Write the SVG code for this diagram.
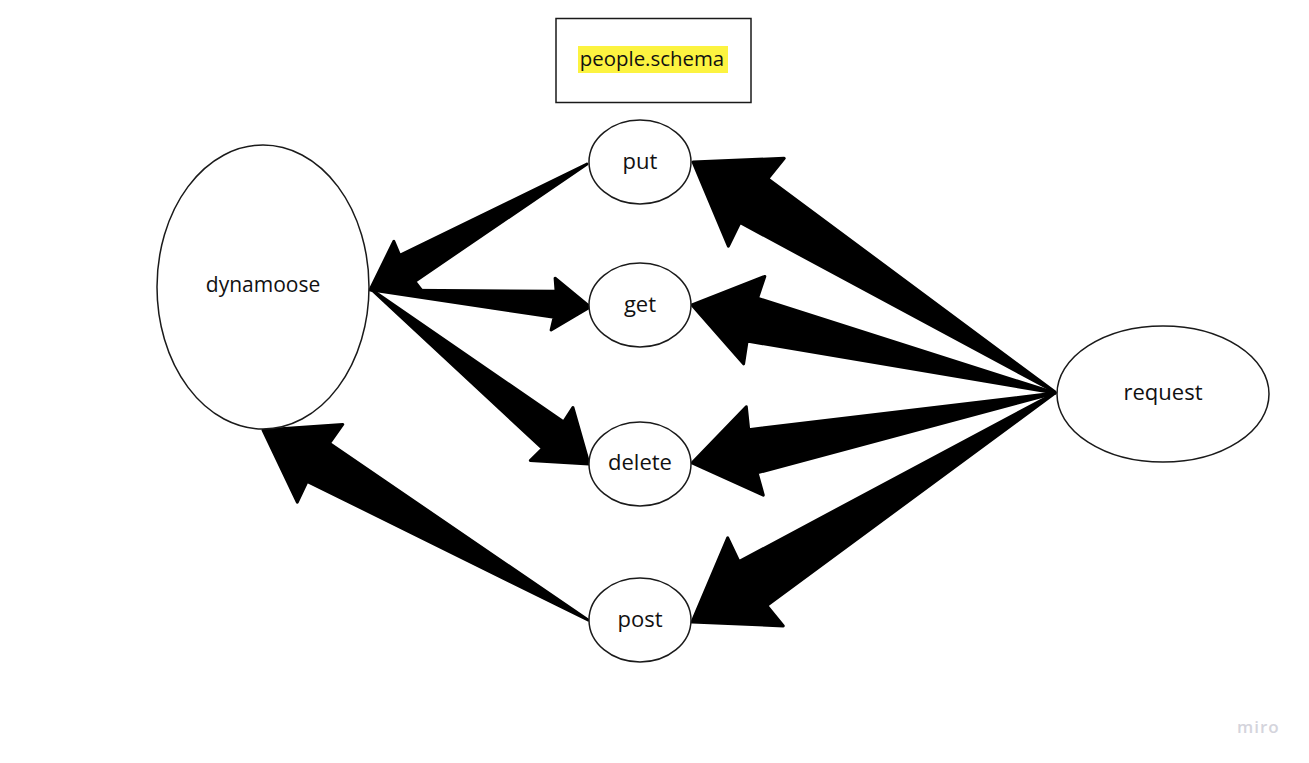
<svg xmlns="http://www.w3.org/2000/svg" width="1309" height="763" viewBox="0 0 1309 763">
  <style>
    .node { fill: #ffffff; stroke: #1a1a1a; stroke-width: 1.5; }
    .label { font-family: "Open Sans", "Noto Sans", sans-serif; font-size: 22px; fill: #111111; text-anchor: middle; dominant-baseline: central; }
    .arrow { fill: #000000; stroke: #000000; stroke-width: 3; stroke-linejoin: round; }
    .wm { font-family: "Open Sans", "Noto Sans", sans-serif; font-size: 17px; font-weight: 600; fill: #d4d4dc; letter-spacing: 1px; }
  </style>
  <rect width="1309" height="763" fill="#ffffff"/>

  <!-- tapered connectors: tail point, notch, barb, tip, barb, notch -->
  <g id="connectors">
    <polygon class="arrow" points="1055,392 767.7,178.7 784.2,158.3 693,162 728.4,246.1 739.9,222.5"/>
    <polygon class="arrow" points="1055,393 757.5,298.2 764.8,276.4 692,305 743.6,363.8 747.1,341"/>
    <polygon class="arrow" points="1055,393 748.7,429.7 746.3,406.7 692,463 763.3,495.1 757.1,472.9"/>
    <polygon class="arrow" points="1055,393 739,561.6 727.7,537.9 692,622 783.3,625.9 766.8,605.6"/>
    <polygon class="arrow" points="587,164 399.7,255.4 393.8,241.4 370,290 424,293.4 414.7,281.4"/>
    <polygon class="arrow" points="372,290 556.1,291.3 555.1,278.2 590,307 551.1,330 554.1,317.3"/>
    <polygon class="arrow" points="372,290 563.7,421.9 572.9,407.5 589,464 530.3,460.5 542.5,448.5"/>
    <polygon class="arrow" points="588,620 329.3,443.3 342.7,424.5 263,430 297.3,502.1 307.1,481.3"/>
  </g>

  <g id="people-schema">
    <rect x="556" y="18.5" width="195" height="84" fill="#ffffff" stroke="#1a1a1a" stroke-width="1.5"/>
    <rect x="578" y="46" width="150" height="27" fill="#fcf340"/>
    <text class="label" x="652" y="58" style="font-size:20.4px">people.schema</text>
  </g>

  <g id="dynamoose">
    <ellipse class="node" cx="263" cy="287" rx="106" ry="142"/>
    <text class="label" x="263" y="284" style="font-size:21px">dynamoose</text>
  </g>

  <g id="put">
    <ellipse class="node" cx="640" cy="162" rx="51" ry="42"/>
    <text class="label" x="640" y="160">put</text>
  </g>

  <g id="get">
    <ellipse class="node" cx="640" cy="305" rx="51" ry="42"/>
    <text class="label" x="640" y="303">get</text>
  </g>

  <g id="delete">
    <ellipse class="node" cx="640" cy="464" rx="51" ry="42"/>
    <text class="label" x="640" y="461">delete</text>
  </g>

  <g id="post">
    <ellipse class="node" cx="640" cy="620" rx="51" ry="42"/>
    <text class="label" x="640" y="618">post</text>
  </g>

  <g id="request">
    <ellipse class="node" cx="1163" cy="394" rx="106" ry="68"/>
    <text class="label" x="1163" y="391">request</text>
  </g>

  <text class="wm" x="1237" y="733">miro</text>
</svg>
